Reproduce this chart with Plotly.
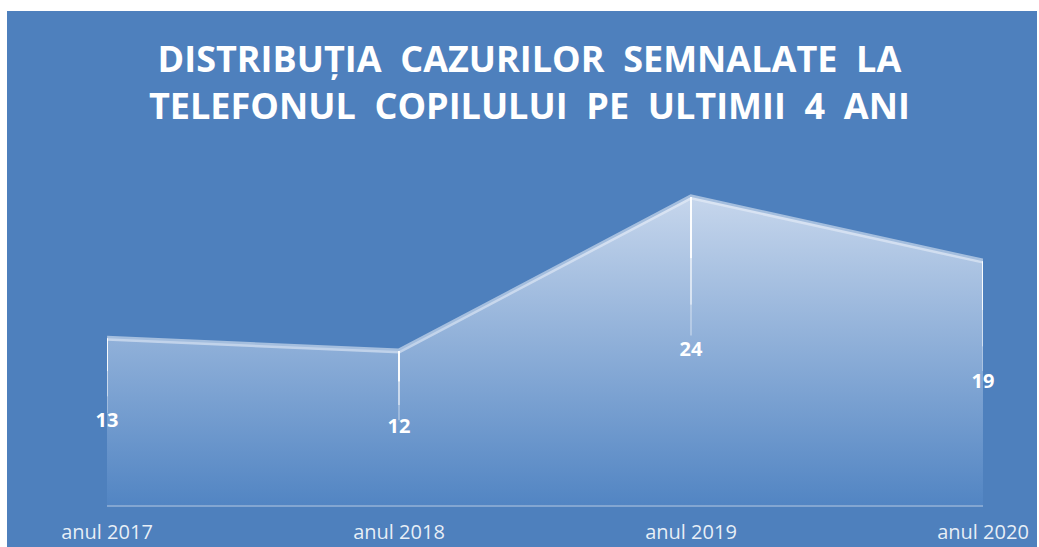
import plotly.graph_objects as go

categories = ["anul 2017", "anul 2018", "anul 2019", "anul 2020"]
values = [13, 12, 24, 19]
title_lines = ["DISTRIBUȚIA  CAZURILOR  SEMNALATE  LA", "TELEFONUL  COPILULUI  PE  ULTIMII  4  ANI"]

BG = "#4e80bd"
W, H = 1039, 547
ML, MR, MT, MB = 107, 56, 120, 42
YMAX = 30
pw = W - ML - MR
ph = H - MT - MB

xs = list(range(len(categories)))

fig = go.Figure()

# area with vertical gradient
fig.add_trace(go.Scatter(
    x=xs, y=values, mode="lines", fill="tozeroy",
    line=dict(color="rgba(255,255,255,0)", width=0),
    fillgradient=dict(type="vertical", start=0, stop=max(values),
                      colorscale=[[0, "rgba(82,133,195,1)"], [1, "rgba(198,214,236,1)"]]),
    hoverinfo="skip", showlegend=False))

# top edge highlight
fig.add_trace(go.Scatter(
    x=xs, y=values, mode="lines",
    line=dict(color="rgba(235,241,249,0.55)", width=5),
    hoverinfo="skip", showlegend=False))

# fading drop lines
segs = [(1.0, 0.80, 0.95), (0.80, 0.65, 0.6), (0.65, 0.55, 0.3)]
for x, v in zip(xs, values):
    for a, b, op in segs:
        fig.add_trace(go.Scatter(
            x=[x, x], y=[v * a, v * b], mode="lines",
            line=dict(color=f"rgba(255,255,255,{op})", width=2),
            hoverinfo="skip", showlegend=False))

# data labels
fig.add_trace(go.Scatter(
    x=xs, y=[v / 2 for v in values], mode="text",
    text=[str(v) for v in values], cliponaxis=False,
    textfont=dict(family="Open Sans", size=20, color="white", weight="bold"),
    hoverinfo="skip", showlegend=False))

# blue panel
fig.add_shape(type="rect", xref="paper", yref="paper", layer="below",
              x0=(7 - ML) / pw, x1=(1037 - ML) / pw,
              y0=-(MB + 2) / ph, y1=(H - MB - 11) / ph,
              fillcolor=BG, line=dict(width=0))

fig.add_annotation(text="<br>".join(title_lines), xref="paper", yref="paper",
                   x=(529 - ML) / pw, y=(H - MB - 82) / ph,
                   xanchor="center", yanchor="middle", showarrow=False,
                   font=dict(family="Open Sans", size=36, color="white", weight="bold"))

fig.update_layout(
    width=W, height=H,
    margin=dict(l=ML, r=MR, t=MT, b=MB, autoexpand=False),
    paper_bgcolor="white", plot_bgcolor="rgba(0,0,0,0)",
    xaxis=dict(range=[0, len(categories) - 1], tickmode="array", tickvals=xs,
               ticktext=categories, showgrid=False, zeroline=False,
               showline=True, linecolor="rgba(255,255,255,0.3)", linewidth=2,
               ticks="outside", ticklen=8, tickcolor="rgba(0,0,0,0)",
               tickfont=dict(family="Open Sans", size=20, color="rgba(255,255,255,0.88)"),
               automargin=False, fixedrange=True),
    yaxis=dict(range=[0, YMAX], visible=False, fixedrange=True, automargin=False),
    showlegend=False,
)

fig.write_html("out.html", config={"displayModeBar": False},
               post_script="document.body.style.margin='0px';")
